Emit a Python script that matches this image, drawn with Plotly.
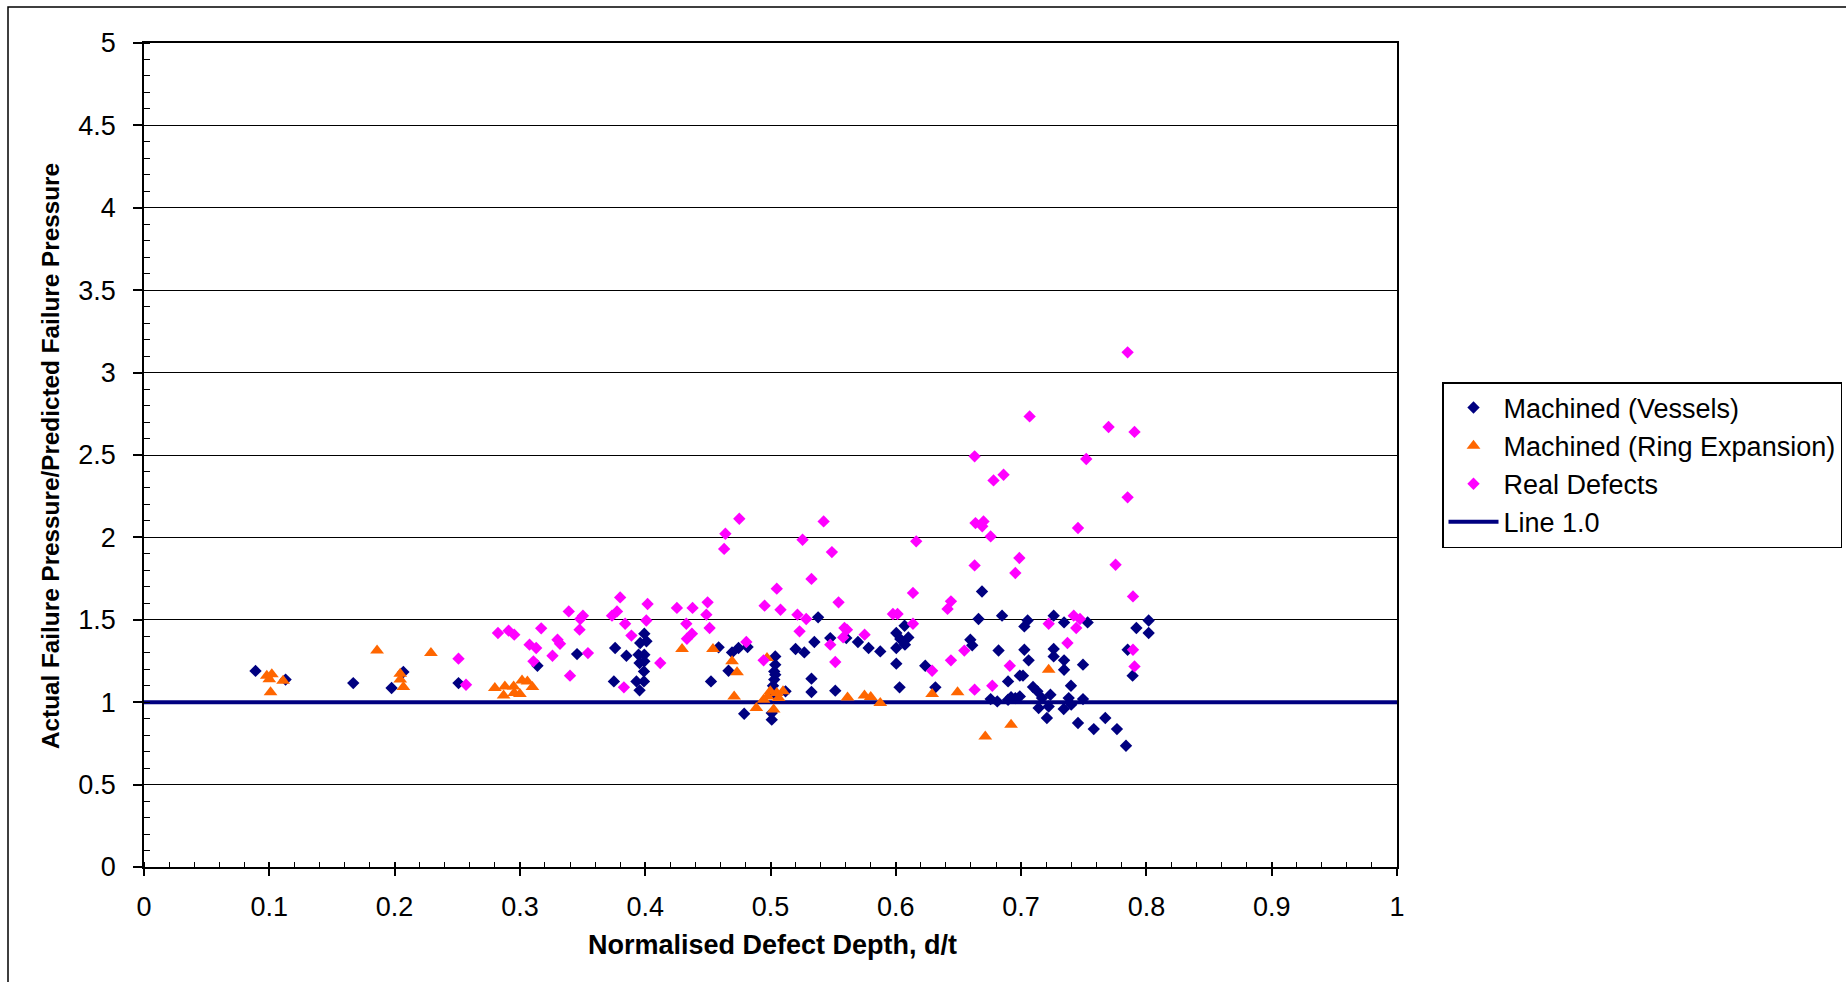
import plotly.graph_objects as go

# ---------------- data ----------------
vessels_x = [0.089, 0.113, 0.167, 0.1976, 0.207, 0.251, 0.314, 0.3456, 0.376, 0.385, 0.375,
             0.3993, 0.396, 0.401, 0.3947, 0.3993, 0.3955, 0.3993, 0.399, 0.393, 0.399, 0.3955,
             0.4586, 0.4525, 0.4693, 0.4745, 0.4817, 0.4665, 0.479,
             0.5038, 0.5038, 0.503, 0.5038, 0.503, 0.502, 0.503, 0.501, 0.501, 0.512,
             0.538, 0.535, 0.520, 0.527, 0.5327, 0.5327,
             0.5477, 0.5605, 0.5698, 0.5783, 0.5876, 0.5517,
             0.607, 0.6004, 0.6036, 0.610, 0.6073, 0.6004, 0.6004, 0.603, 0.6235, 0.6316,
             0.6595, 0.661, 0.6688, 0.666, 0.6848, 0.682, 0.6896, 0.699,
             0.6757, 0.681, 0.6896, 0.6954, 0.692,
             0.7052, 0.7026, 0.726, 0.7343, 0.7531, 0.7920, 0.8018, 0.8018,
             0.7026, 0.706, 0.726, 0.726, 0.7343, 0.7343, 0.7494, 0.785, 0.789,
             0.7015, 0.7095, 0.713, 0.7398, 0.699, 0.7167, 0.7234, 0.738, 0.7494,
             0.714, 0.722, 0.734, 0.740, 0.7206, 0.7454, 0.758, 0.7672, 0.7765, 0.7837]
vessels_y = [1.19, 1.137, 1.116, 1.086, 1.183, 1.116, 1.221, 1.292, 1.329, 1.282, 1.126,
             1.416, 1.359, 1.37, 1.288, 1.288, 1.238, 1.248, 1.187, 1.126, 1.126, 1.072,
             1.333, 1.126, 1.302, 1.329, 1.335, 1.191, 0.930,
             1.278, 1.228, 1.187, 1.167, 1.137, 1.10, 1.05, 0.894, 0.934, 1.066,
             1.515, 1.365, 1.323, 1.302, 1.143, 1.062,
             1.389, 1.389, 1.365, 1.329, 1.308, 1.070,
             1.464, 1.420, 1.383, 1.393, 1.349, 1.329, 1.234, 1.090, 1.221, 1.090,
             1.379, 1.345, 1.672, 1.505, 1.525, 1.314, 1.126, 1.161,
             1.019, 1.005, 1.015, 1.025, 1.03,
             1.496, 1.460, 1.525, 1.484, 1.484, 1.450, 1.496, 1.420,
             1.318, 1.254, 1.323, 1.278, 1.254, 1.197, 1.228, 1.318, 1.161,
             1.161, 1.092, 1.066, 1.100, 1.035, 1.025, 1.045, 1.025, 1.019,
             0.965, 0.974, 0.959, 0.985, 0.904, 0.874, 0.837, 0.904, 0.837, 0.736]

ring_x = [0.098, 0.102, 0.100, 0.101, 0.111, 0.186, 0.2045, 0.2045, 0.207, 0.229,
          0.280, 0.288, 0.287, 0.295, 0.2955, 0.3017, 0.306, 0.310, 0.300,
          0.4294, 0.4541, 0.4693, 0.4733, 0.471, 0.4972,
          0.4887, 0.4945, 0.4998, 0.5025, 0.5065, 0.510, 0.4977, 0.505,
          0.5615, 0.575, 0.580, 0.5876, 0.629, 0.6493, 0.692, 0.6714, 0.722]
ring_y = [1.16, 1.17, 1.14, 1.06, 1.13, 1.314, 1.173, 1.137, 1.092, 1.298,
          1.086, 1.096, 1.040, 1.096, 1.056, 1.132, 1.126, 1.092, 1.050,
          1.323, 1.323, 1.248, 1.181, 1.035, 1.268,
          0.965, 1.015, 1.066, 0.955, 1.025, 1.066, 1.035, 1.056,
          1.029, 1.041, 1.031, 0.995, 1.050, 1.060, 0.863, 0.792, 1.197]

real_x = [0.251, 0.257, 0.2825, 0.291, 0.2955, 0.317, 0.3077, 0.313, 0.3108, 0.330, 0.332,
          0.326, 0.339, 0.3482, 0.3503, 0.3476, 0.3543, 0.340, 0.380, 0.3735, 0.3775, 0.384,
          0.389, 0.383,
          0.4019, 0.4009, 0.412, 0.4253, 0.4378, 0.4498, 0.4488, 0.4328, 0.4514, 0.4333, 0.4373,
          0.464, 0.463, 0.4751, 0.4807, 0.4945, 0.505, 0.4953, 0.508,
          0.5424, 0.5256, 0.5327, 0.5215, 0.5285, 0.5232,
          0.549, 0.5543, 0.559, 0.561, 0.558, 0.5477, 0.5751, 0.5517,
          0.5977, 0.6014, 0.6137, 0.6163, 0.6137, 0.629, 0.644, 0.6413, 0.644, 0.6547,
          0.6629, 0.678, 0.686, 0.6636, 0.670, 0.669, 0.6757, 0.6629, 0.6986, 0.6954, 0.691,
          0.677, 0.6629,
          0.785, 0.7068, 0.7698, 0.7905, 0.752, 0.785, 0.7454, 0.7754, 0.7893, 0.722, 0.742,
          0.747, 0.744, 0.737, 0.7893, 0.7905]
real_y = [1.264, 1.106, 1.420, 1.434, 1.410, 1.448, 1.349, 1.329, 1.248, 1.379, 1.355,
          1.282, 1.551, 1.505, 1.525, 1.440, 1.298, 1.161, 1.636, 1.525, 1.551, 1.476,
          1.404, 1.09,
          1.596, 1.496, 1.238, 1.572, 1.572, 1.606, 1.531, 1.476, 1.450, 1.385, 1.416,
          2.022, 1.930, 2.113, 1.365, 1.254, 1.689, 1.586, 1.561,
          2.097, 1.986, 1.748, 1.531, 1.505, 1.430,
          1.911, 1.606, 1.450, 1.440, 1.393, 1.349, 1.410, 1.244,
          1.535, 1.535, 1.476, 1.976, 1.663, 1.191, 1.612, 1.566, 1.254, 1.313,
          2.492, 2.346, 2.380, 2.087, 2.097, 2.067, 2.006, 1.830, 1.875, 1.784, 1.221,
          1.100, 1.076,
          3.123, 2.734, 2.670, 2.640, 2.476, 2.243, 2.057, 1.834, 1.642, 1.476, 1.525,
          1.505, 1.450, 1.359, 1.318, 1.217]

line_x = [0, 1]
line_y = [1.0, 1.0]

x_ticks = [0, 0.1, 0.2, 0.3, 0.4, 0.5, 0.6, 0.7, 0.8, 0.9, 1]
x_ticklabels = ["0", "0.1", "0.2", "0.3", "0.4", "0.5", "0.6", "0.7", "0.8", "0.9", "1"]
y_ticks = [0, 0.5, 1, 1.5, 2, 2.5, 3, 3.5, 4, 4.5, 5]
y_ticklabels = ["0", "0.5", "1", "1.5", "2", "2.5", "3", "3.5", "4", "4.5", "5"]

# ---------------- figure ----------------
NAVY = "#000080"
ORANGE = "#FF6600"
MAGENTA = "#FF00FF"
FONT = "Liberation Sans, Arial, sans-serif"
FS = 27

fig = go.Figure()
fig.add_trace(go.Scatter(x=line_x, y=line_y, mode="lines", name="Line 1.0",
                         line=dict(color=NAVY, width=4), legendrank=4, legendgroup="d"))
fig.add_trace(go.Scatter(x=vessels_x, y=vessels_y, mode="markers", name="Machined (Vessels)",
                         marker=dict(symbol="diamond", size=9.5, color=NAVY),
                         legendrank=1, legendgroup="a"))
fig.add_trace(go.Scatter(x=ring_x, y=ring_y, mode="markers", name="Machined (Ring Expansion)",
                         marker=dict(symbol="triangle-up", size=12, color=ORANGE),
                         legendrank=2, legendgroup="b"))
fig.add_trace(go.Scatter(x=real_x, y=real_y, mode="markers", name="Real Defects",
                         marker=dict(symbol="diamond", size=9.5, color=MAGENTA),
                         legendrank=3, legendgroup="c"))
# invisible trace on an overlay axis to draw the inner half of the crossing x major ticks
fig.add_trace(go.Scatter(x=[0, 1], y=[0, 0], mode="markers", marker=dict(opacity=0),
                         xaxis="x2", showlegend=False, hoverinfo="skip"))

W, H = 1846, 982
L, R, T, B = 144, 1397, 43, 867
fig.update_layout(
    width=W, height=H,
    margin=dict(l=L, r=W - R, t=T, b=H - B, autoexpand=False),
    paper_bgcolor="white", plot_bgcolor="white",
    font=dict(family=FONT, size=FS, color="black"),
    showlegend=True,
    legend=dict(
        x=(1442 - L) / (R - L), xanchor="left",
        y=(B - 382) / (B - T), yanchor="top",
        bordercolor="black", borderwidth=1.5, bgcolor="white",
        font=dict(family=FONT, size=FS, color="black"),
        traceorder="grouped", tracegroupgap=0, itemwidth=50,
    ),
    xaxis=dict(
        range=[0, 1], tickmode="array", tickvals=x_ticks, ticktext=x_ticklabels,
        showgrid=False, zeroline=False,
        showline=True, linecolor="black", linewidth=1.5, mirror=True,
        ticks="outside", ticklen=7, tickwidth=1.5, tickcolor="black",
        ticklabelstandoff=8,
        minor=dict(dtick=0.02, tick0=0, ticks="inside", ticklen=5, tickwidth=1.2,
                   tickcolor="black", showgrid=False),
        tickfont=dict(family=FONT, size=FS, color="black"),
    ),
    xaxis2=dict(
        range=[0, 1], overlaying="x", side="bottom", anchor="y",
        tickmode="array", tickvals=x_ticks, showticklabels=False,
        ticks="inside", ticklen=5, tickwidth=1.5, tickcolor="black",
        showgrid=False, zeroline=False, showline=False,
    ),
    yaxis=dict(
        range=[0, 5], tickmode="array", tickvals=y_ticks, ticktext=y_ticklabels,
        showgrid=True, gridcolor="black", gridwidth=1.2, zeroline=False,
        showline=True, linecolor="black", linewidth=1.5, mirror=True,
        ticks="outside", ticklen=9, tickwidth=1.5, tickcolor="black",
        ticklabelstandoff=12,
        minor=dict(dtick=0.1, tick0=0, ticks="inside", ticklen=6, tickwidth=1.2,
                   tickcolor="black", showgrid=False),
        tickfont=dict(family=FONT, size=FS, color="black"),
    ),
    annotations=[
        dict(text="<b>Normalised Defect Depth, d/t</b>", xref="paper", yref="paper",
             x=(772 - L) / (R - L), y=(B - 945) / (B - T), xanchor="center", yanchor="middle",
             showarrow=False, font=dict(family=FONT, size=FS, color="black")),
        dict(text="<b>Actual Failure Pressure/Predicted Failure Pressure</b>",
             xref="paper", yref="paper",
             x=(51 - L) / (R - L), y=(B - 456) / (B - T), xanchor="center", yanchor="middle",
             textangle=-90, showarrow=False, font=dict(family=FONT, size=24.3, color="black")),
    ],
    shapes=[
        dict(type="rect", xref="paper", yref="paper",
             x0=(8 - L) / (R - L), x1=(1900 - L) / (R - L),
             y0=(B - 1040) / (B - T), y1=(B - 7) / (B - T),
             line=dict(color="black", width=1.5), fillcolor="rgba(0,0,0,0)", layer="below"),
    ],
)

fig.write_html("out.html")
